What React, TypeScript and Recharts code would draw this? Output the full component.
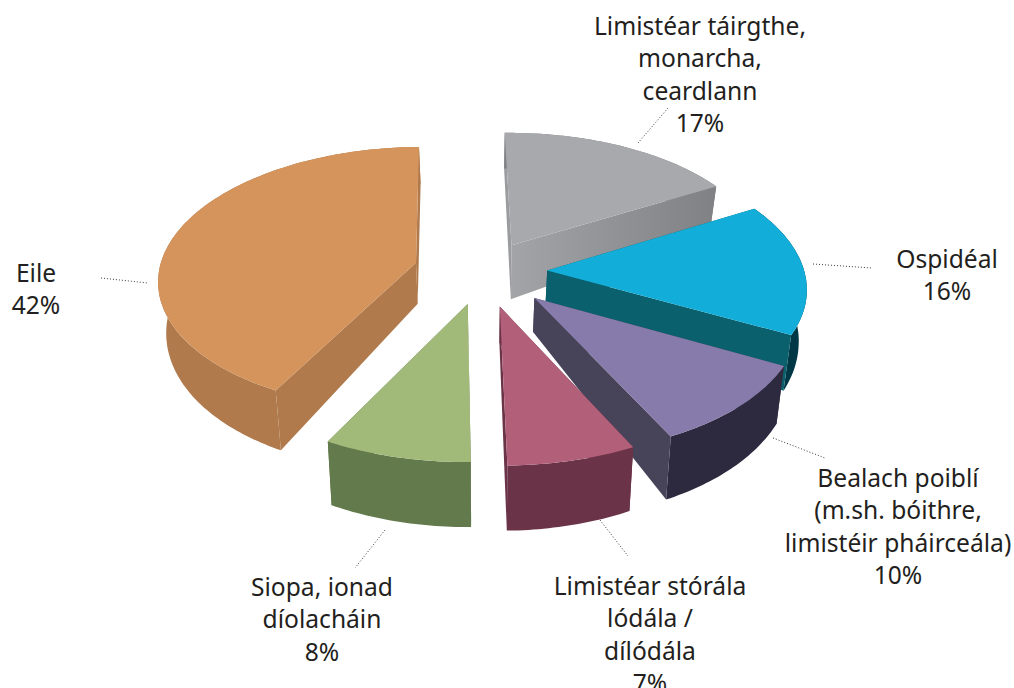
import React from 'react';
import { PieChart, Pie } from 'recharts';

const CATEGORIES = [
    ['Limistéar táirgthe,', 'monarcha,', 'ceardlann'],
    ['Ospidéal'],
    ['Bealach poiblí', '(m.sh. bóithre,', 'limistéir pháirceála)'],
    ['Limistéar stórála', 'lódála /', 'dílódála'],
    ['Siopa, ionad', 'díolacháin'],
    ['Eile'],
];
const VALUES = [17, 16, 10, 7, 8, 42];

// top face, curved wall, cut wall at the start angle, cut wall at the end angle
const TOP_COLORS = ['#a7a9ac', '#12aed9', '#877bab', '#b25f7a', '#a2ba79', '#d4945c'];
const RIM_COLORS = ['#808184', '#003845', '#2d2a40', '#6b3347', '#627a4c', '#b07a4c'];
const START_WALLS = ['#9b9c9f', '#0a606c', '#474359', '#6b3347', '#627a4c', '#b07a4c'];
const END_WALLS = ['url(#greyWall)', '#0a606c', '#474359', '#6b3347', '#627a4c', '#b07a4c'];

// how far each slice is pulled out, and how deep the wall is at its tip
const EXPLODE = [0.23, 0.25, 0.28, 0.27, 0.25, 0.27];
const TIP_DEPTH = [54, 32, 34, 36, 36, 41];

const LABEL_X = [700, 947, 898, 650, 322, 36];
const LABEL_Y = [35, 268, 487, 595, 596, 282];
const LINE_GAP = 32.4;
const LEADERS = [
    [638, 143, 668, 108],
    [813, 264, 872, 268],
    [773, 438, 825, 458],
    [600, 520, 628, 556],
    [385, 530, 355, 568],
    [101, 278, 148, 283],
];

const TILT = 0.511;
const PERSPECTIVE = 0.117;
const SHRINK = 0.025;

const rad = (deg: number) => (deg * Math.PI) / 180;

const Slice3D = (props: any) => {
    const { cx, cy, outerRadius, startAngle, endAngle, midAngle, index } = props;
    const a0 = 90 - startAngle;
    const a1 = 90 - endAngle;
    const mid = rad(90 - midAngle);
    const ox = EXPLODE[index] * Math.sin(mid);
    const oy = EXPLODE[index] * Math.cos(mid);

    const project = (u: number, v: number, depth: number, z: number) => {
        const w = 1 + PERSPECTIVE * v;
        return [
            cx + ((outerRadius * u) / w) * (1 - SHRINK * z),
            cy - (outerRadius * TILT * v) / w + depth,
        ];
    };
    const rimPoint = (deg: number, z: number) => {
        const u = ox + Math.sin(rad(deg));
        const v = oy + Math.cos(rad(deg));
        return project(u, v, z * (50 - 12 * v), z);
    };
    const arc = (z: number) => {
        const pts = [];
        for (let d = a0; d < a1; d += 1) pts.push(rimPoint(d, z));
        pts.push(rimPoint(a1, z));
        return pts;
    };
    const toPath = (pts: number[][]) =>
        `M${pts.map((p) => `${p[0].toFixed(1)},${p[1].toFixed(1)}`).join('L')}Z`;

    const tipTop = project(ox, oy, 0, 0);
    const tipBottom = project(ox, oy, TIP_DEPTH[index], 1);
    const topArc = arc(0);
    const bottomArc = arc(1);

    const startWall = (
        <path d={toPath([tipTop, topArc[0], bottomArc[0], tipBottom])} fill={START_WALLS[index]} />
    );
    const endWall = (
        <path
            d={toPath([tipTop, topArc[topArc.length - 1], bottomArc[bottomArc.length - 1], tipBottom])}
            fill={END_WALLS[index]}
        />
    );
    // walls facing away go under the rim, walls facing the viewer over it
    const startFront = a0 > 180;
    const endFront = a1 < 180;

    return (
        <g>
            {index === 0 && (
                <defs>
                    <linearGradient id="greyWall" x1="0" y1="0" x2="1" y2="0">
                        <stop offset="0%" stopColor="#a3a4a7" />
                        <stop offset="100%" stopColor="#808184" />
                    </linearGradient>
                </defs>
            )}
            {!startFront && startWall}
            {!endFront && endWall}
            <path d={toPath([...topArc, ...[...bottomArc].reverse()])} fill={RIM_COLORS[index]} />
            {startFront && startWall}
            {endFront && endWall}
            <path d={toPath([tipTop, ...topArc])} fill={TOP_COLORS[index]} />
        </g>
    );
};

const renderLabel = (props: any) => {
    const { index } = props;
    const lines = [...CATEGORIES[index], `${VALUES[index]}%`];
    const [x1, y1, x2, y2] = LEADERS[index];
    return (
        <g key={`label-${index}`}>
            <line x1={x1} y1={y1} x2={x2} y2={y2} stroke="#3a3a3c" strokeWidth={1} strokeDasharray="1 2" />
            <text textAnchor="middle" fontFamily="'Noto Sans', sans-serif" fontSize={24.6} fill="#231f20">
                {lines.map((line, i) => (
                    <tspan key={line} x={LABEL_X[index]} y={LABEL_Y[index] + i * LINE_GAP}>
                        {line}
                    </tspan>
                ))}
            </text>
        </g>
    );
};

const data = VALUES.map((value, i) => ({ name: CATEGORIES[i].join(' '), value }));

export default function App() {
    return (
        <div style={{ position: 'absolute', left: 0, top: 0 }}>
            <PieChart width={1014} height={688}>
                <Pie
                    data={data}
                    dataKey="value"
                    cx={478}
                    cy={266}
                    outerRadius={257}
                    startAngle={91}
                    endAngle={-269}
                    stroke="none"
                    shape={Slice3D}
                    label={renderLabel}
                    labelLine={false}
                    isAnimationActive={false}
                />
            </PieChart>
        </div>
    );
}
